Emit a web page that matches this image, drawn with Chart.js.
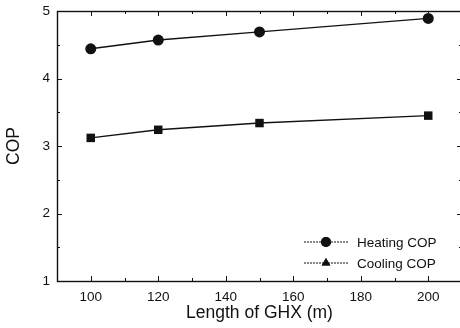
<!DOCTYPE html>
<html>
<head>
<meta charset="utf-8">
<script src="https://cdn.jsdelivr.net/npm/chart.js@4.4.1/dist/chart.umd.min.js"></script>
<style>
  html, body { margin: 0; padding: 0; background: #fff; overflow: hidden; }
  #wrap { width: 460px; height: 328px; overflow: hidden; }
  canvas { display: block; }
</style>
</head>
<body>
<div id="wrap"><canvas id="c" width="468" height="328"></canvas></div>
<script>
// GHX length (m) vs. COP
const lengths = [100, 120, 150, 200];
const heating = [4.44, 4.57, 4.69, 4.89];
const cooling = [3.12, 3.24, 3.34, 3.45];
const xTicks  = [100, 120, 140, 160, 180, 200];
const yTicks  = [1, 2, 3, 4, 5];

const FONT = 'Arial, "Liberation Sans", sans-serif';
const INK  = '#111';

// inward tick marks on all four sides (major + minor)
const frameTicks = {
  id: 'frameTicks',
  afterDraw(chart) {
    const { ctx, chartArea: a, scales: { x, y } } = chart;
    ctx.save();
    ctx.strokeStyle = INK;
    ctx.lineWidth = 1;
    ctx.beginPath();
    for (let v = 100; v <= 200; v += 10) {
      const px = Math.round(x.getPixelForValue(v)) + 0.5;
      const len = v % 20 === 0 ? 5 : 3;
      ctx.moveTo(px, a.bottom); ctx.lineTo(px, a.bottom - len);
      ctx.moveTo(px, a.top);    ctx.lineTo(px, a.top + len);
    }
    for (let v = 1; v <= 5; v += 0.5) {
      const py = Math.round(y.getPixelForValue(v)) + 0.5;
      const len = Number.isInteger(v) ? 5 : 3;
      ctx.moveTo(a.left, py);  ctx.lineTo(a.left + len, py);
      ctx.moveTo(a.right, py); ctx.lineTo(a.right - len, py);
    }
    ctx.stroke();
    ctx.lineWidth = 1.4;
    ctx.strokeRect(a.left + 0.5, a.top + 0.5, a.right - a.left, a.bottom - a.top);
    ctx.restore();
  }
};

// legend box in the lower right corner of the plot
const cornerLegend = {
  id: 'cornerLegend',
  afterDraw(chart) {
    const { ctx, chartArea: a } = chart;
    const items = [
      { text: 'Heating COP', style: 'circle' },
      { text: 'Cooling COP', style: 'triangle' },
    ];
    ctx.save();
    ctx.font = '13.5px ' + FONT;
    ctx.textBaseline = 'middle';
    items.forEach((it, i) => {
      const yy = a.bottom - 39 + i * 21;
      const x0 = a.right - 158;
      ctx.strokeStyle = INK;
      ctx.lineWidth = 1;
      ctx.setLineDash([2, 1]);
      ctx.beginPath();
      ctx.moveTo(x0, yy); ctx.lineTo(x0 + 45, yy);
      ctx.stroke();
      ctx.setLineDash([]);
      ctx.fillStyle = INK;
      Chart.helpers.drawPoint(ctx, { pointStyle: it.style, radius: 5, borderWidth: 0 }, x0 + 22, yy);
      ctx.fill();
      ctx.fillText(it.text, x0 + 53, yy + 1);
    });
    ctx.restore();
  }
};

const commonLine = {
  borderColor: INK,
  backgroundColor: INK,
  borderWidth: 1.4,
  pointBorderWidth: 0,
  tension: 0,
};

new Chart(document.getElementById('c'), {
  type: 'line',
  data: {
    datasets: [
      { ...commonLine, label: 'Heating COP', data: lengths.map((l, i) => ({ x: l, y: heating[i] })),
        pointStyle: 'circle', pointRadius: 5.5 },
      { ...commonLine, label: 'Cooling COP', data: lengths.map((l, i) => ({ x: l, y: cooling[i] })),
        pointStyle: 'rect', pointRadius: 6 },
    ],
  },
  plugins: [frameTicks, cornerLegend],
  options: {
    responsive: false,
    animation: false,
    layout: { padding: { top: 11, right: 1, left: 0, bottom: 0 } },
    plugins: { legend: { display: false }, tooltip: { enabled: false } },
    scales: {
      x: {
        type: 'linear', min: 90, max: 210,
        afterBuildTicks: s => { s.ticks = xTicks.map(v => ({ value: v })); },
        afterFit: s => { s.height = 47; s.paddingLeft = 0; s.paddingRight = 0; },
        grid: { display: false, drawTicks: false },
        border: { display: false },
        ticks: { color: INK, font: { family: FONT, size: 13.5 }, padding: 8, maxRotation: 0 },
        title: { display: true, text: 'Length of GHX (m)', color: INK,
                 font: { family: FONT, size: 17.5 }, padding: { top: 1 } },
      },
      y: {
        min: 1, max: 5,
        afterBuildTicks: s => { s.ticks = yTicks.map(v => ({ value: v })); },
        afterFit: s => { s.width = 57; s.paddingTop = 0; s.paddingBottom = 0; },
        grid: { display: false, drawTicks: false },
        border: { display: false },
        ticks: { color: INK, font: { family: FONT, size: 13.5 }, padding: 7 },
        title: { display: true, text: 'COP', color: INK,
                 font: { family: FONT, size: 17.5 }, padding: { top: 4, bottom: 0 } },
      },
    },
  },
});
</script>
</body>
</html>
